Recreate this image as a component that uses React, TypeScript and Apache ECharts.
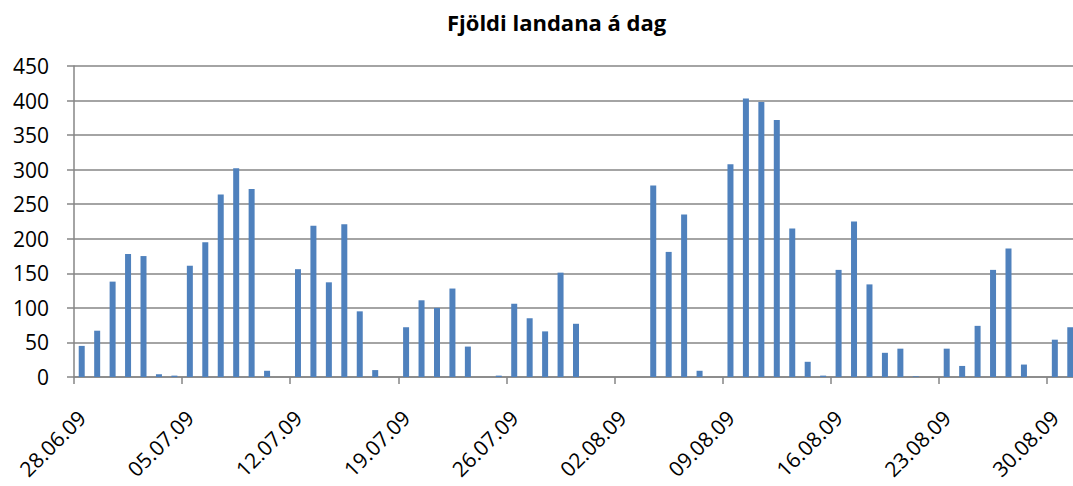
import React, { useEffect, useRef } from "react";
import * as echarts from "echarts";

const categories: string[] = [
  "28.06.09", "29.06.09", "30.06.09", "01.07.09", "02.07.09", "03.07.09", "04.07.09",
  "05.07.09", "06.07.09", "07.07.09", "08.07.09", "09.07.09", "10.07.09", "11.07.09",
  "12.07.09", "13.07.09", "14.07.09", "15.07.09", "16.07.09", "17.07.09", "18.07.09",
  "19.07.09", "20.07.09", "21.07.09", "22.07.09", "23.07.09", "24.07.09", "25.07.09",
  "26.07.09", "27.07.09", "28.07.09", "29.07.09", "30.07.09", "31.07.09", "01.08.09",
  "02.08.09", "03.08.09", "04.08.09", "05.08.09", "06.08.09", "07.08.09", "08.08.09",
  "09.08.09", "10.08.09", "11.08.09", "12.08.09", "13.08.09", "14.08.09", "15.08.09",
  "16.08.09", "17.08.09", "18.08.09", "19.08.09", "20.08.09", "21.08.09", "22.08.09",
  "23.08.09", "24.08.09", "25.08.09", "26.08.09", "27.08.09", "28.08.09", "29.08.09",
  "30.08.09", "31.08.09",
];

const landings: number[] = [
  45, 67, 138, 178, 175, 4, 2,
  161, 195, 264, 302, 272, 9, 0,
  156, 219, 137, 221, 95, 10, 0,
  72, 111, 100, 128, 44, 0, 2,
  106, 85, 66, 151, 77, 0, 0,
  0, 0, 277, 181, 235, 9, 0,
  308, 403, 398, 372, 215, 22, 2,
  155, 225, 134, 35, 41, 1, 0,
  41, 16, 74, 155, 186, 18, 0,
  54, 72,
];

const titleText = "Fjöldi landana á dag";
const FONT = "'Open Sans', 'Noto Sans', sans-serif";

export default function App() {
  const ref = useRef<HTMLDivElement>(null);
  useEffect(() => {
    if (!ref.current) return;
    const chart = echarts.init(ref.current, undefined, { renderer: "svg" });
    chart.setOption({
      animation: false,
      backgroundColor: "#ffffff",
      title: {
        text: titleText,
        left: 442,
        top: 6,
        textStyle: { fontFamily: FONT, fontSize: 22, fontWeight: "bold", color: "#000" },
      },
      grid: { left: 74, right: -5, top: 66, bottom: 109, containLabel: false, outerBoundsMode: "none" },
      xAxis: {
        type: "category",
        data: categories,
        boundaryGap: true,
        axisLine: { show: true, lineStyle: { color: "#868686", width: 1.5 } },
        axisTick: { show: true, interval: 6, alignWithLabel: false, length: 7, lineStyle: { color: "#868686", width: 1.5 } },
        axisLabel: {
          interval: 6,
          rotate: 45,
          margin: 37,
          fontFamily: FONT,
          fontSize: 21,
          color: "#000",
        },
        splitLine: { show: false },
      },
      yAxis: {
        type: "value",
        min: 0,
        max: 450,
        interval: 50,
        axisLine: { show: true, lineStyle: { color: "#868686", width: 1.5 } },
        axisTick: { show: true, inside: false, length: 7, lineStyle: { color: "#868686", width: 1.5 } },
        axisLabel: { margin: 25, fontFamily: FONT, fontSize: 21, color: "#000" },
        splitLine: { show: true, lineStyle: { color: "#868686", width: 1.5 } },
      },
      series: [
        {
          type: "bar",
          data: landings,
          barWidth: 6,
          itemStyle: { color: "#4F81BD" },
        },
      ],
    });
    return () => chart.dispose();
  }, []);
  return (
    <div
      ref={ref}
      style={{ position: "fixed", left: 0, top: 0, width: 1073, height: 486, overflow: "hidden" }}
    />
  );
}
